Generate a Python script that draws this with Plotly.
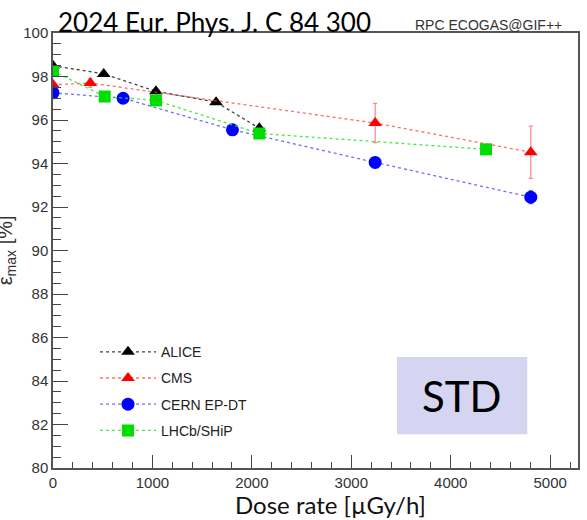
import plotly.graph_objects as go

# ---- data ----
alice_x = [0, 510, 1035, 1640, 2075]
alice_y = [98.5, 98.12, 97.32, 96.82, 95.62]

cms_x = [0, 375, 3240, 4805]
cms_y = [97.62, 97.7, 95.86, 94.52]
cms_err = [0.15, 0.2, 0.9, 1.2]

cern_x = [0, 705, 1805, 3240, 4805]
cern_y = [97.25, 97.0, 95.55, 94.05, 92.45]
cern_err = [0.1, 0.1, 0.1, 0.2, 0.3]

lhcb_x = [0, 520, 1035, 2075, 4355]
lhcb_y = [98.25, 97.08, 96.9, 95.38, 94.65]

names = ["ALICE", "CMS", "CERN EP-DT", "LHCb/SHiP"]
colors = ["#000000", "#ff0000", "#0000ff", "#00dd00"]
line_colors = ["rgba(0,0,0,0.75)", "rgba(255,60,60,0.75)", "rgba(60,60,255,0.75)", "rgba(40,230,40,0.85)"]

x_ticks = [0, 1000, 2000, 3000, 4000, 5000]
y_ticks = [80, 82, 84, 86, 88, 90, 92, 94, 96, 98, 100]

fig = go.Figure()

series = [
    (alice_x, alice_y, None, "triangle-up", 12),
    (cms_x, cms_y, cms_err, "triangle-up", 12),
    (cern_x, cern_y, cern_err, "circle", 13),
    (lhcb_x, lhcb_y, None, "square", 12),
]
for (xs, ys, err, sym, sz), nm, c, lc in zip(series, names, colors, line_colors):
    tr = dict(
        x=xs, y=ys, name=nm, mode="lines+markers", legendgroup=nm,
        line=dict(color=lc, width=1.3, dash="dot"),
        marker=dict(symbol=sym, size=sz, color=c, line=dict(width=0)),
    )
    if err is not None:
        tr["error_y"] = dict(type="data", array=err, visible=True,
                             color="rgba(255,80,80,0.7)" if nm == "CMS" else lc,
                             thickness=1.2, width=2)
    fig.add_trace(go.Scatter(**tr))

fig.update_layout(
    width=587, height=520,
    margin=dict(l=53, r=7, t=33, b=52),
    paper_bgcolor="white", plot_bgcolor="white",
    font=dict(family="Liberation Sans, Arial, sans-serif", color="#333333"),
    showlegend=True,
    legend=dict(
        x=0.08, y=0.303, xanchor="left", yanchor="top",
        bgcolor="rgba(0,0,0,0)", font=dict(size=14, color="#222222"),
        itemwidth=56, tracegroupgap=5,
    ),
)

fig.update_xaxes(
    range=[0, 5280], tickvals=x_ticks, ticktext=[str(v) for v in x_ticks],
    ticks="inside", ticklen=13, tickwidth=1.2, tickcolor="#444",
    minor=dict(dtick=200, ticks="inside", ticklen=6, tickcolor="#444", tickwidth=1.2),
    showgrid=False, zeroline=False,
    showline=True, linecolor="#555", linewidth=1.5, mirror=True,
    tickfont=dict(size=15, color="#333333"),
)
fig.update_yaxes(
    range=[80, 100], tickvals=y_ticks, ticktext=[str(v) for v in y_ticks],
    ticks="inside", ticklen=15, tickwidth=1.2, tickcolor="#444",
    minor=dict(dtick=0.5, ticks="inside", ticklen=8, tickcolor="#444", tickwidth=1.2),
    showgrid=False, zeroline=False,
    showline=True, linecolor="#555", linewidth=1.5, mirror=True,
    tickfont=dict(size=15, color="#333333"),
)

# X axis label
fig.add_annotation(
    text="Dose rate [µGy/h]", xref="paper", yref="paper", x=0.529, y=-0.085,
    xanchor="center", yanchor="middle", showarrow=False,
    font=dict(family="Lato, Carlito, sans-serif", size=24, color="#111"),
)

# Y axis label (at the left edge, as in the reference)
fig.add_annotation(
    text="ε<sub>max</sub> [%]", textangle=-90,
    xref="paper", yref="paper", x=-0.088, y=0.5, xanchor="center", yanchor="middle",
    showarrow=False, font=dict(size=20, color="#333333", family="Liberation Sans, Arial"),
)

# Top texts
fig.add_annotation(
    text="2024 Eur. Phys. J. C 84 300", xref="paper", yref="paper",
    x=(215 - 53) / 527, y=1.0, xanchor="center", yanchor="bottom", showarrow=False,
    font=dict(size=26, color="#000", family="Lato, Carlito, sans-serif"), yshift=-7,
)
fig.add_annotation(
    text="RPC ECOGAS@GIF++", xref="paper", yref="paper",
    x=(490 - 53) / 527, y=1.0, xanchor="center", yanchor="bottom", showarrow=False,
    font=dict(size=14, color="#333", family="Liberation Sans, Arial"), yshift=-2,
)

# STD box
fig.add_shape(type="rect", xref="x", yref="y", x0=3460, x1=4770, y0=81.55, y1=85.1,
              fillcolor="#d5d5f2", line=dict(width=0), layer="below")
fig.add_annotation(text="STD", xref="x", yref="y", x=4115, y=83.3, showarrow=False,
                   font=dict(size=42, color="#000", family="Lato, Carlito, sans-serif"))

fig.write_html("out.html")
